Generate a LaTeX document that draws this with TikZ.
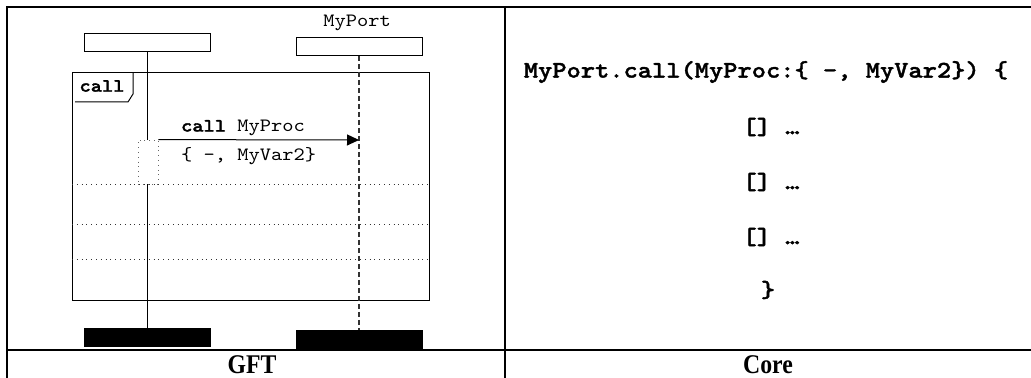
\documentclass[tikz,border=0pt]{standalone}
\usepackage{fontspec}
\setmainfont{Liberation Serif}
\setmonofont{lmmono10-regular.otf}[BoldFont=lmmonolt10-bold.otf, BoldFeatures={FakeBold=1.6}, FakeStretch=1.14]
\newfontfamily\hdrfont{Liberation Serif}[FakeStretch=0.88]
\usetikzlibrary{arrows.meta,positioning}

\begin{document}
\begin{tikzpicture}[
  x=0.5pt, y=-0.5pt,
  font=\ttfamily\fontsize{9.4}{11}\selectfont,
  inst/.style={draw, line width=0.5pt, minimum width=63pt, minimum height=9pt, inner sep=0pt},
  iend/.style={inst, fill=black},
  life/.style={line width=0.6pt, black!80, dash pattern=on 2.5pt off 1.5pt},
  msg/.style={line width=0.5pt, -{Triangle[length=6pt, width=5.5pt]}},
  sep/.style={line width=0.4pt, black!80, dotted},
  core/.style={font=\ttfamily\bfseries\fontsize{11.9}{14}\selectfont},
  hdr/.style={font=\hdrfont\bfseries\fontsize{13.5}{15}\selectfont},
]
\useasboundingbox (0,0) rectangle (1031,378);

% table
\draw[line width=1pt] (7,378) -- (7,7) -- (1031,7);
\draw[line width=1pt] (7,350) -- (1031,350);
\draw[line width=1pt] (505,7) -- (505,378);
\node[hdr] (gft) at (252,365) {GFT};
\node[hdr] (core) at (768,365) {Core};

% GFT
\node (port) at (357,23) {MyPort};
\node[inst] (hA) at (147,43) {};
\node[inst] (hB) at (359,46.5) {};
\node[iend] (eA) at (147,338) {};
\node[iend] (eB) at (359,340) {};

\draw[line width=0.5pt] (72,73) rectangle (429,301);
\draw[line width=0.5pt] (133,73) -- (133,94) -- (128,102) -- (75,102);
\node[font=\ttfamily\bfseries\fontsize{9.4}{11}\selectfont] (tab) at (102,86) {call};
\foreach \y in {184,224,259} \draw[sep] (72,\y) -- (429,\y);

\draw[line width=0.5pt] (hA) -- (eA);
\draw[life] (hB) -- (eB);

\node[draw, dotted, black!60, fill=white, line width=0.4pt, minimum width=10pt, minimum height=22pt, inner sep=0pt] (act) at (148,162) {};
\coordinate (tip) at (359,140);
\draw[msg] (act.north east) -- (tip);
\node[anchor=west] (op) at (174,128) {\textbf{call} MyProc};
\node[anchor=west] (par) at (174,156) {\{ -, MyVar2\}};

% Core
\node[core] (sig) at (766,72) {MyPort.call(MyProc:\{ -, MyVar2\}) \{};
\foreach \y/\n in {127/a,182/b,237/c} \node[core] (alt\n) at (771,\y) {[]~…};
\node[core] (close) at (768,290) {\}};
\end{tikzpicture}
\end{document}
